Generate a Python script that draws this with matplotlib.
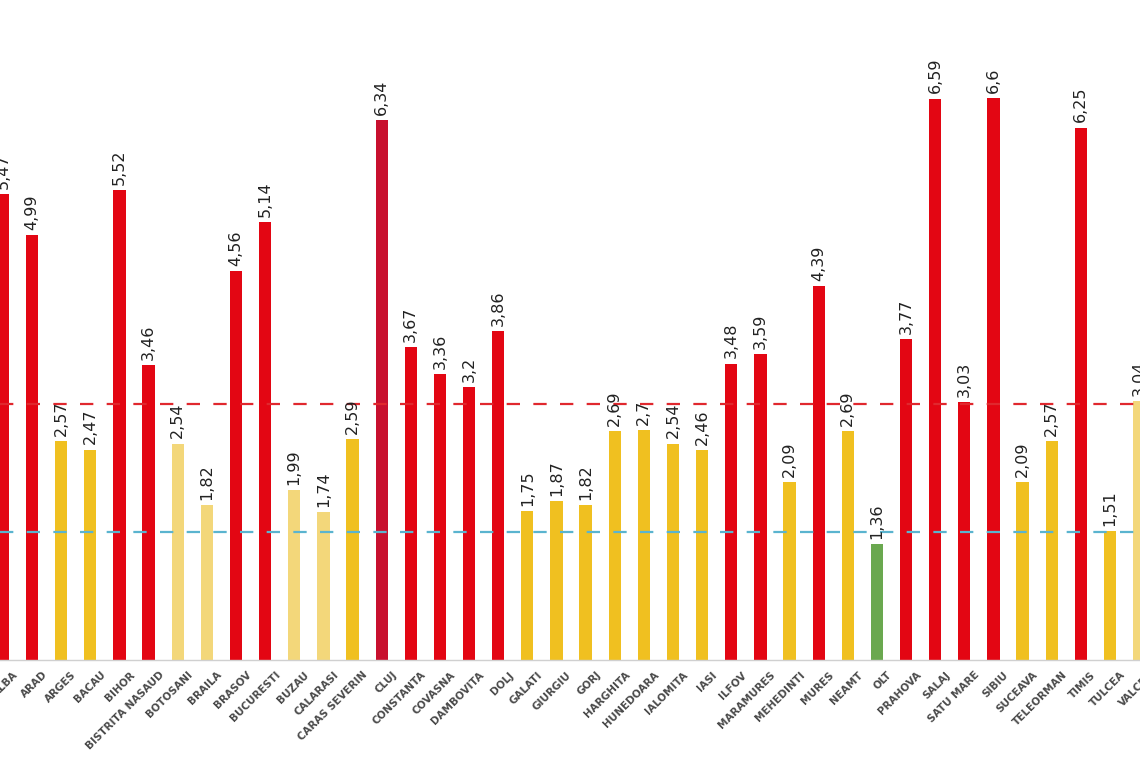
import matplotlib.pyplot as plt
from matplotlib.transforms import ScaledTranslation

judete = ["ALBA", "ARAD", "ARGES", "BACAU", "BIHOR", "BISTRITA NASAUD",
          "BOTOSANI", "BRAILA", "BRASOV", "BUCURESTI", "BUZAU", "CALARASI",
          "CARAS SEVERIN", "CLUJ", "CONSTANTA", "COVASNA", "DAMBOVITA", "DOLJ",
          "GALATI", "GIURGIU", "GORJ", "HARGHITA", "HUNEDOARA", "IALOMITA",
          "IASI", "ILFOV", "MARAMURES", "MEHEDINTI", "MURES", "NEAMT", "OLT",
          "PRAHOVA", "SALAJ", "SATU MARE", "SIBIU", "SUCEAVA", "TELEORMAN",
          "TIMIS", "TULCEA", "VALCEA"]

rata = [5.47, 4.99, 2.57, 2.47, 5.52, 3.46,
        2.54, 1.82, 4.56, 5.14, 1.99, 1.74,
        2.59, 6.34, 3.67, 3.36, 3.2, 3.86,
        1.75, 1.87, 1.82, 2.69, 2.7, 2.54,
        2.46, 3.48, 3.59, 2.09, 4.39, 2.69, 1.36,
        3.77, 6.59, 3.03, 6.6, 2.09, 2.57,
        6.25, 1.51, 3.04]

# scenariu: r = rosu, g = galben, d = galben deschis, v = verde, c = cluj
scenariu = ["r", "r", "g", "g", "r", "r",
            "d", "d", "r", "r", "d", "d",
            "g", "c", "r", "r", "r", "r",
            "g", "g", "g", "g", "g", "g",
            "g", "r", "r", "g", "r", "g", "v",
            "r", "r", "r", "r", "g", "g",
            "r", "g", "d"]

praguri = [3.0, 1.5]

colors = {
    "r": "#e30613",
    "g": "#f0c020",
    "d": "#f3d77a",
    "v": "#6aa84f",
    "c": "#c8102e",
}

fig = plt.figure(figsize=(11.4, 7.6), dpi=100)
ax = fig.add_axes([0, 100 / 760, 1, 660 / 760])

x = range(len(judete))
ax.bar(x, rata, width=0.42, color=[colors[s] for s in scenariu], zorder=2)

ax.axhline(praguri[0], color="#e0282e", lw=1.6, dashes=(6, 6), zorder=3)
ax.axhline(praguri[1], color="#5ab4cf", lw=1.6, dashes=(6, 6), zorder=3)

for i, v in enumerate(rata):
    txt = f"{v:g}".replace(".", ",")
    ax.text(i, v + 0.06, txt, rotation=90, ha="center", va="bottom",
            fontsize=11.5, color="#222222", zorder=4)

ax.set_xlim(-0.1, 39.03)
ax.set_ylim(0, 660 / 85.2)
ax.set_xticks(list(x))
ax.set_xticklabels(judete, rotation=45, ha="right", rotation_mode="anchor",
                   fontsize=7.5, fontweight="bold", color="#4a4a4a")
ax.tick_params(axis="x", length=0, pad=7)
shift = ScaledTranslation(10 / 100, 0, fig.dpi_scale_trans)
for lbl in ax.get_xticklabels():
    lbl.set_transform(lbl.get_transform() + shift)
ax.set_yticks([])
for side in ["top", "right", "left"]:
    ax.spines[side].set_visible(False)
ax.spines["bottom"].set_color("#d0d0d0")
ax.spines["bottom"].set_linewidth(1)

fig.savefig("out.png", dpi=100)
